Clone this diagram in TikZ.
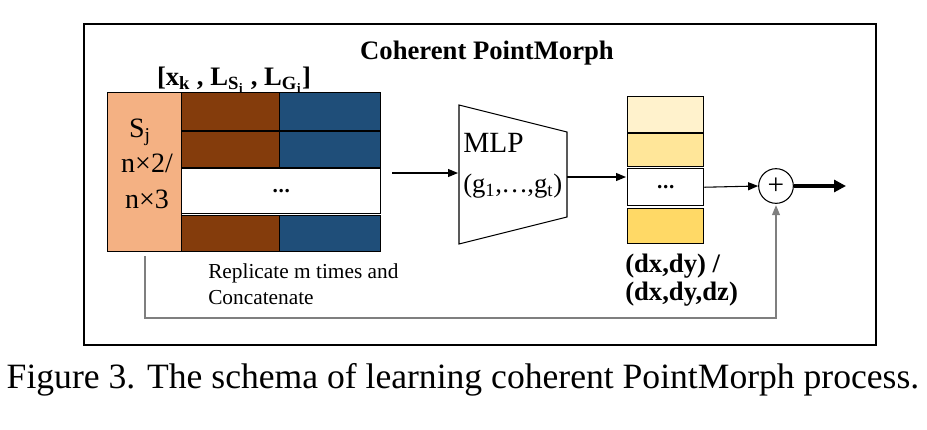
\documentclass[tikz,border=0pt]{standalone}
\usepackage{fontspec}
\setmainfont{Liberation Serif}
\usetikzlibrary{arrows.meta}
\definecolor{salmon}{HTML}{F4B183}
\definecolor{brownc}{HTML}{843C0C}
\definecolor{bluec}{HTML}{1F4E79}
\definecolor{yel1}{HTML}{FFF2CC}
\definecolor{yel2}{HTML}{FFE699}
\definecolor{yel3}{HTML}{FFD966}
\definecolor{fbgray}{HTML}{7F7F7F}
\newcommand{\tdots}{\textbf{.\kern0.5pt.\kern0.5pt.}}
\begin{document}
\begin{tikzpicture}[x=0.75pt,y=-0.75pt,
  cell/.style={draw=black, line width=1.1pt, inner sep=0pt, anchor=north west},
  frm/.style={draw=black, line width=1.2pt, inner sep=0pt, anchor=north west},
  txt/.style={inner sep=0pt, anchor=base},
  txtl/.style={inner sep=0pt, anchor=base west},
  arr/.style={-{Triangle[length=7.5pt,width=6pt]}, line width=0.8pt},
  thickarr/.style={-{Triangle[length=9pt,width=9pt]}, line width=3pt},
  big/.style={font=\fontsize{21}{24}\selectfont},
]
\useasboundingbox (0,0) rectangle (927,429);
% frame
\node[frm, minimum width=594pt, minimum height=240.75pt] (frame) at (83,23) {};
\node[txt, font=\fontsize{20}{24}\selectfont\bfseries] (title) at (487,59) {Coherent PointMorph};
\node[txt, font=\fontsize{20}{24}\selectfont\bfseries] (lab) at (234,85)
  {[x\textsubscript{k} , L\textsubscript{S\textsubscript{j}} , L\textsubscript{G\textsubscript{j}}]};
% left block
\node[cell, fill=salmon, minimum width=55.5pt, minimum height=119.25pt] (sj) at (107,92) {};
\node[txt, big] (sjt) at (140,137) {S\textsubscript{j}};
\node[txt, big] (n2) at (147,172) {n×2/};
\node[txt, big] (n3) at (147,208) {n×3};
\node[cell, fill=brownc, minimum width=73.5pt, minimum height=28.5pt] (b1) at (181,92) {};
\node[cell, fill=bluec, minimum width=75.75pt, minimum height=28.5pt] (u1) at (279,92) {};
\node[cell, fill=brownc, minimum width=73.5pt, minimum height=27pt] (b2) at (181,131) {};
\node[cell, fill=bluec, minimum width=75.75pt, minimum height=27pt] (u2) at (279,131) {};
\node[cell, fill=white, minimum width=149.25pt, minimum height=33.75pt, font=\fontsize{16}{20}\selectfont] (w) at (181,168) {\tdots};
\node[cell, fill=brownc, minimum width=73.5pt, minimum height=27pt] (b4) at (181,215) {};
\node[cell, fill=bluec, minimum width=75.75pt, minimum height=27pt] (u4) at (279,215) {};
\node[txtl, font=\fontsize{16}{18}\selectfont] (rep1) at (208,278) {Replicate m times and};
\node[txtl, font=\fontsize{16}{18}\selectfont] (rep2) at (208,304) {Concatenate};
% MLP
\coordinate (tl) at (459,105);
\coordinate (tr) at (567,132);
\coordinate (br) at (567,217);
\coordinate (bl) at (459,244);
\draw[line width=0.8pt] (tl) -- (tr) -- (br) -- (bl) -- cycle;
\node[txtl, font=\fontsize{22}{26}\selectfont] (mlp) at (463,152) {MLP};
\node[txtl, font=\fontsize{20}{26}\selectfont] (gs) at (463,192) {(g\textsubscript{1},\kern-0.5pt…\kern-0.5pt,g\textsubscript{t})};
\coordinate (a1s) at (392,173);
\coordinate (a1e) at (458,173);
\draw[arr] (a1s) -- (a1e);
\coordinate (a2s) at (567,177);
\coordinate (a2e) at (626,177);
\draw[arr] (a2s) -- (a2e);
% output boxes
\node[cell, fill=yel1, minimum width=57pt, minimum height=27pt] (y1) at (627,96) {};
\node[cell, fill=yel2, minimum width=57pt, minimum height=24.75pt] (y2) at (627,133) {};
\node[cell, fill=white, minimum width=57pt, minimum height=27.75pt, font=\fontsize{16}{20}\selectfont] (y3) at (627,168) {\tdots};
\node[cell, fill=yel3, minimum width=57pt, minimum height=26.25pt] (y4) at (627,208) {};
\node[txtl, font=\fontsize{20}{22}\selectfont\bfseries] (d1) at (625,272) {(dx,dy) /};
\node[txtl, font=\fontsize{20}{22}\selectfont\bfseries] (d2) at (625,300) {(dx,dy,dz)};
% plus
\node[draw, circle, line width=0.8pt, minimum size=26pt, inner sep=0pt, font=\fontsize{22}{22}\selectfont] (plus) at (776,186) {+};
\draw[arr] (y3.east) -- (plus.west);
\coordinate (out) at (846,186);
\draw[thickarr] (plus.east) -- (out);
% feedback
\coordinate (fb) at (145,256);
\coordinate (fbb) at (145,318);
\draw[fbgray, line width=0.8pt, -{Triangle[length=7.5pt,width=6pt]}, shorten >=1pt] (fb) -- (fbb) -| (plus.south);
% caption
\node[txt, font=\fontsize{26.7}{30}\selectfont] (cap) at (463,388) {Figure 3. The schema of learning coherent PointMorph process.};
\end{tikzpicture}
\end{document}
